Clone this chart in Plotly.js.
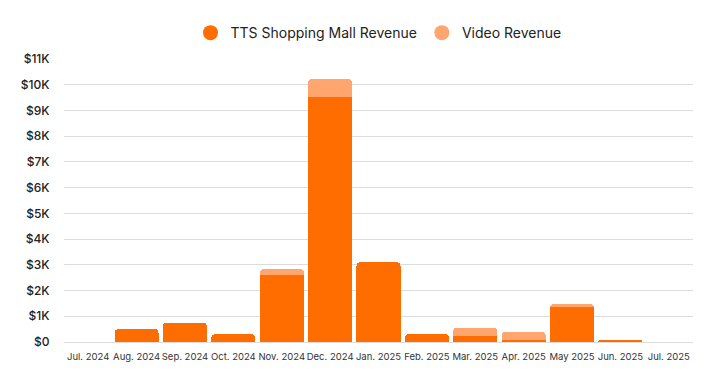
<!DOCTYPE html>
<html>
<head>
<meta charset="utf-8">
<script src="https://cdn.plot.ly/plotly-3.0.1.min.js"></script>
<style>html,body{margin:0;padding:0;background:#fff;}#chart{width:709px;height:371px;}</style>
</head>
<body>
<div id="chart"></div>
<script>
const months = ["Jul. 2024","Aug. 2024","Sep. 2024","Oct. 2024","Nov. 2024","Dec. 2024","Jan. 2025","Feb. 2025","Mar. 2025","Apr. 2025","May 2025","Jun. 2025","Jul. 2025"];
const mallRevenue = [0, 500, 750, 300, 2620, 9520, 3100, 310, 220, 70, 1370, 70, 0];
const videoRevenue = [0, 0, 0, 0, 210, 700, 0, 0, 340, 320, 110, 0, 0];
const yTickVals = [0,1000,2000,3000,4000,5000,6000,7000,8000,9000,10000,11000];
const yTickText = ["$0","$1K","$2K","$3K","$4K","$5K","$6K","$7K","$8K","$9K","$10K","$11K"];
const seriesNames = ["TTS Shopping Mall Revenue","Video Revenue"];
const colors = ["#FF6D00","#FFA66E"];

const traces = [
  {type:'bar', x:months, y:mallRevenue, name:seriesNames[0], marker:{color:colors[0]}, showlegend:false, hoverinfo:'x+y'},
  {type:'bar', x:months, y:videoRevenue, name:seriesNames[1], marker:{color:colors[1]}, showlegend:false, hoverinfo:'x+y'},
  {type:'scatter', mode:'markers', x:[null], y:[null], name:seriesNames[0], marker:{color:colors[0], size:15, symbol:'circle'}},
  {type:'scatter', mode:'markers', x:[null], y:[null], name:seriesNames[1], marker:{color:colors[1], size:15, symbol:'circle'}}
];

const layout = {
  width:709, height:371,
  margin:{l:64, r:16, t:59, b:29},
  paper_bgcolor:'#fff', plot_bgcolor:'#fff',
  barmode:'stack', bargap:0.09,
  barcornerradius:4,
  font:{family:'Inter, "Noto Sans", sans-serif', color:'#222'},
  showlegend:true,
  legend:{orientation:'h', x:0.5, xanchor:'center', y:0.954, yref:'container', yanchor:'top', font:{size:14, color:'#222'}, itemwidth:30, traceorder:'normal'},
  xaxis:{type:'category', tickangle:0, tickfont:{size:9.5, color:'#333'}, showgrid:false, zeroline:false, showline:false, ticks:'outside', ticklen:6, tickcolor:'rgba(0,0,0,0)', fixedrange:true},
  yaxis:{range:[0,11000], tickvals:yTickVals, ticktext:yTickText, tickfont:{size:12, color:'#222', weight:500}, showgrid:true, gridcolor:'#dcdcdc', gridwidth:1, zeroline:true, zerolinecolor:'#dcdcdc', showline:false, ticks:'outside', ticklen:11, tickcolor:'rgba(0,0,0,0)', fixedrange:true}
};

Plotly.newPlot('chart', traces, layout, {displayModeBar:false, staticPlot:true});
</script>
</body>
</html>
